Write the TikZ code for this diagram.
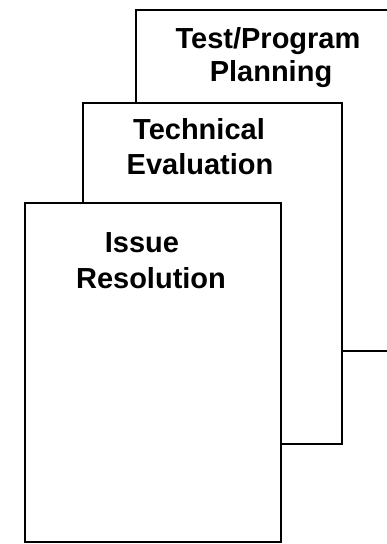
\documentclass[tikz,border=0pt]{standalone}
\usepackage{fontspec}
\setmainfont{Liberation Sans}
\begin{document}
\begin{tikzpicture}[x=1pt,y=1pt,
  page/.style={draw=black, fill=white, line width=2.6pt, line join=miter},
  label/.style={anchor=base, inner sep=0pt, font=\fontsize{29}{33}\selectfont\bfseries}]
\useasboundingbox (0,0) rectangle (387,544);
\clip (0,0) rectangle (387,544);
% back page
\draw[page] (136,193) rectangle (420,534);
% middle page
\draw[page] (83,100) rectangle (342,441);
% front page
\draw[page] (25,2) rectangle (281,341);
\node[label] (t1) at (268,495) {Test/Program};
\node[label] (t2) at (271,462) {Planning};
\node[label] (m1) at (199,404) {Technical};
\node[label] (m2) at (200,369) {Evaluation};
\node[label] (f1) at (142,291) {Issue};
\node[label] (f2) at (151,255) {Resolution};
\end{tikzpicture}
\end{document}
